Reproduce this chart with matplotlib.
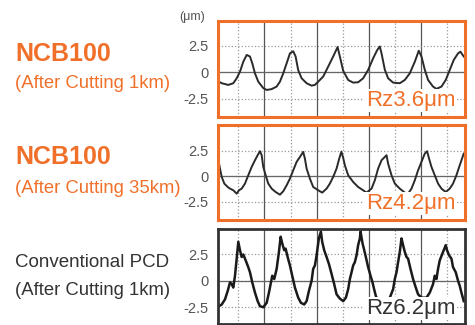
import matplotlib.pyplot as plt

plt.rcParams['font.family'] = ['Liberation Sans', 'DejaVu Sans']

ORANGE = '#F0702A'
DARK = '#333333'

# profile traces (x in arbitrary scan units, y in um)
x1 = [0.7, 3.4, 10, 15, 18.4, 21.7, 25, 28.4, 31.7, 34,
      36.7, 40, 45, 48.4, 53.4, 58.4, 61.7, 65, 68.4, 71.7,
      75, 77.4, 80, 83.4, 88.4, 93.4, 96.7, 100, 105, 110,
      115, 119.4, 122.2, 125, 130, 135, 140, 145, 150, 155,
      159, 161.7, 163.4, 166.7, 170, 175, 181.7, 186.7, 191.7, 196.7,
      200.7, 203.4, 206.7, 210, 215, 218.4, 223.4, 227.7, 231.7, 235.7,
      240, 242.4, 245.7]
y1 = [-0.89, -1.04, -1.2, -1.04, -0.57, 0.06, 1.0, 1.65, 1.5, 0.85,
      -0.1, -0.89, -1.5, -1.68, -1.6, -1.36, -0.89, -0.1, 0.85, 1.8,
      2.0, 1.5, 0.2, -0.57, -1.04, -1.27, -1.2, -0.89, -0.41, 0.54,
      1.5, 2.4, 1.3, 0.15, -0.73, -0.98, -0.95, -0.57, 0.22, 1.33,
      2.1, 2.45, 1.8, 0.25, -0.57, -0.98, -1.04, -0.73, -0.1, 1.0,
      2.05, 1.5, 0.25, -0.73, -1.36, -1.58, -1.36, -0.73, 0.22, 1.17,
      1.8, 1.96, 1.5]

x2 = [0.7, 1.7, 3.4, 6, 9.4, 11.7, 15, 18.4, 20.7, 23.4,
      26.7, 30, 33.4, 36.7, 39.4, 41.7, 43.4, 45, 47.4, 50,
      53.4, 57.4, 61.7, 65, 68.4, 71.7, 75, 78.4, 81.7, 85,
      86.7, 88.4, 91.7, 95, 100, 104, 108.4, 111.7, 115, 118.4,
      121, 123.2, 125, 126.7, 130, 135, 140, 145, 148.4, 153.4,
      156.7, 160, 163.4, 166.7, 168.4, 170, 173.4, 176.7, 181.7, 186.7,
      190, 193.4, 196.7, 200, 203.4, 206.7, 209, 211, 213.4, 216.7,
      220, 223.4, 227.7, 231.7, 235, 238.4, 241.7, 245.7]
y2 = [1.23, 0.75, -0.06, -0.71, -1.04, -1.2, -1.36, -1.69, -1.36, -1.2,
      -0.71, 0.1, 0.91, 1.56, 2.05, 2.44, 2.05, 0.91, 0.1, -0.71,
      -1.2, -1.53, -1.79, -1.46, -0.88, -0.23, 0.58, 1.4, 1.88, 2.37,
      1.72, 0.75, -0.23, -1.04, -1.36, -1.59, -1.2, -0.71, -0.06, 0.75,
      1.7, 2.4, 1.8, 1.07, 0.1, -0.55, -1.04, -1.36, -1.59, -1.2,
      -0.39, 0.75, 1.56, 1.88, 2.05, 1.23, 0.1, -0.71, -1.2, -1.59,
      -1.69, -1.2, -0.39, 0.58, 1.4, 2.2, 2.44, 1.72, 0.91, 0.1,
      -0.71, -1.2, -1.53, -1.2, -0.71, 0.1, 1.07, 2.2]

x3 = [0.7, 3.4, 6.7, 9.4, 11.7, 13.4, 15, 16.7, 18.4, 20,
      21.7, 23.4, 25, 27.4, 30, 31.7, 34, 36.7, 39.4, 41.7,
      45, 48.4, 50.7, 52.7, 54, 56, 58.4, 60.7, 62.4, 64,
      66, 67.4, 69.4, 71.7, 74, 76.7, 80, 82.7, 86, 88.4,
      90.7, 93.4, 95, 96.7, 98.4, 100.7, 102.7, 104, 106, 108.4,
      110.7, 113.4, 116, 118.4, 121.7, 125, 127.7, 130, 131.7, 133.4,
      135, 136.7, 138.4, 140, 141.7, 142.4, 144.4, 145.7, 147.7, 150,
      152.4, 154.4, 156, 157.7, 161, 165, 168.5, 171.7, 175, 176.7,
      178.4, 180, 181.7, 183.4, 185, 186.7, 188.4, 190, 192.4, 195,
      197.7, 200, 203.4, 208.4, 211.7, 215, 216.7, 218.4, 220, 221.7,
      225, 227.7, 229, 231, 233.4, 235, 237.7, 240, 241.7, 243.4,
      245.7]
y3 = [-2.42, -2.26, -1.77, -0.97, -0.16, -0.32, -0.65, 0.48, 2.1, 3.71,
      2.9, 2.26, 2.5, 1.94, 1.29, 0.81, -0.16, -1.13, -1.94, -2.42,
      -2.52, -2.1, -1.13, -0.16, 0.48, 0.16, 1.13, 2.74, 4.19, 3.55,
      2.9, 3.06, 2.26, 1.45, 0.48, -0.65, -1.61, -2.1, -2.26, -1.94,
      -0.97, 0, 1.13, 1.45, 2.42, 4.03, 4.68, 3.71, 2.9, 2.26,
      1.61, 0.65, -0.32, -1.29, -1.7, -1.94, -1.61, -0.81, 0.16, 0.81,
      1.45, 1.77, 2.42, 3.39, 4.03, 4.68, 3.55, 3.06, 2.26, 1.29,
      0.48, -0.16, -0.81, -1.45, -2.1, -2.3, -2.0, -1.61, -0.81, 0.16,
      0.81, 1.77, 2.74, 4.03, 3.39, 2.74, 2.26, 2.1, 1.13, 0.16,
      -0.65, -1.29, -1.61, -1.61, -1.13, -0.32, 0.48, 0.16, 1.13, 1.94,
      2.74, 3.39, 2.9, 2.42, 2.1, 1.29, 0.81, 0, -0.48, -1.13,
      -1.94]

yticks = [-2.5, 0, 2.5]
ytick_labels = ['-2.5', '0', '2.5']
rz_labels = ['Rz3.6μm', 'Rz4.2μm', 'Rz6.2μm']
titles = [('NCB100', '(After Cutting 1km)'),
          ('NCB100', '(After Cutting 35km)'),
          ('Conventional PCD', '(After Cutting 1km)')]

fig = plt.figure(figsize=(4.75, 3.25), dpi=100)

rects = [[0.4596, 0.641, 0.5194, 0.2945],
         [0.4596, 0.3222, 0.5194, 0.2923],
         [0.4596, 0.0046, 0.5194, 0.29]]
ylims = [(-4.22, 4.88), (-4.28, 4.96), (-4.07, 4.9)]
data = [(x1, y1), (x2, y2), (x3, y3)]
edge = [ORANGE, ORANGE, DARK]
rz_col = [ORANGE, ORANGE, DARK]
rz_y = [0.17, 0.177, 0.16]

for i in range(3):
    ax = fig.add_axes(rects[i])
    x, y = data[i]
    ax.plot(x, y, color='#2a2a2a' if i < 2 else '#1a1a1a',
            lw=1.4 if i < 2 else 1.8, zorder=3)
    ax.set_xlim(0, 247)
    ax.set_ylim(*ylims[i])

    # grid: solid majors, dotted minors
    ax.set_xticks([46, 98.4, 150.5, 203])
    ax.set_xticks([20, 72.5, 124.5, 177, 229], minor=True)
    ax.grid(which='major', axis='x', ls='-', color='#555555', lw=0.9)
    ax.grid(which='minor', axis='x', ls=':', color='#999999', lw=0.9)
    ax.set_yticks(yticks)
    ax.set_yticklabels(ytick_labels)
    ax.grid(which='major', axis='y', ls=':', color='#999999', lw=0.9)
    ax.axhline(0, color='#666666', lw=0.9, zorder=2)
    ax.tick_params(which='both', length=0, labelbottom=False,
                   labelsize=10.5, labelcolor='#555555', pad=7)
    for s in ax.spines.values():
        s.set_color(edge[i])
        s.set_linewidth(2.2 if i < 2 else 2.0)
        s.set_zorder(5)

    ax.text(0.96, rz_y[i], rz_labels[i], transform=ax.transAxes,
            ha='right', va='center', fontsize=16, color=rz_col[i],
            bbox=dict(facecolor='white', edgecolor='none', pad=1), zorder=4)

fig.text(0.404, 0.948, '(μm)', ha='center', va='center', fontsize=9,
         color='#555555')

tpos = [(0.834, 0.742), (0.517, 0.4215), (0.191, 0.105)]
for i in range(3):
    t1, t2 = titles[i]
    c = ORANGE if i < 2 else DARK
    if i < 2:
        fig.text(0.0316, tpos[i][0], t1, ha='left', va='center',
                 fontsize=18, fontweight='bold', color=c)
    else:
        fig.text(0.0316, tpos[i][0], t1, ha='left', va='center',
                 fontsize=13.5, color=c)
    fig.text(0.0316, tpos[i][1], t2, ha='left', va='center',
             fontsize=13.3, color=c)

fig.savefig('out.png', dpi=100)
